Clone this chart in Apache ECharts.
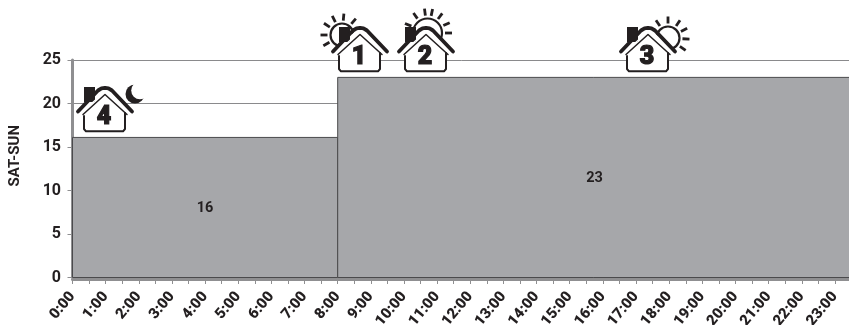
<!DOCTYPE html>
<html><head><meta charset="utf-8">
<script src="https://cdn.jsdelivr.net/npm/echarts@6/dist/echarts.min.js"></script>
<style>html,body{margin:0;padding:0;background:#fff}#c{width:849px;height:325px}</style></head>
<body><div id="c"></div>
<script>
const startHours = [0, 8];
const endHours = [8, 23.5];
const values = [16.1, 23];
const seriesName = 'SAT-SUN';
const yTicks = {min: 0, max: 25, interval: 5};

const ink = '#231f20';
function house(px, py, n, extras) {
  const c = [];
  const P = (pts, style, z) => ({type:'polyline', z: z||10, shape:{points:pts.map(p=>[p[0]+px,p[1]+py]), smooth:0}, style:Object.assign({fill:null, stroke:ink, lineCap:'round', lineJoin:'round'}, style)});
  (extras||[]).forEach(e => c.push(e));
  c.push({type:'polygon', z:10, shape:{points:[[-28,25],[0,0],[28,25],[20,25],[20,44],[-21,44],[-21,25]].map(p=>[p[0]+px,p[1]+py])}, style:{fill:'#fff'}});
  c.push({type:'rect', z:11, shape:{x:px-21, y:py, width:11, height:15}, style:{fill:ink}});
  c.push(P([[-27,24.5],[-7,3.5],[-3.5,1.4],[0,0.8],[3.5,1.4],[7,3.5],[27,24.5]], {lineWidth:3.8}, 12));
  c.push(P([[-25,27],[0,4.5],[25,27]], {lineWidth:1.6,stroke:'#fff'}, 12));
  c.push(P([[-22,27.5],[0,7.5],[22,27.5]], {lineWidth:1.5}, 12));
  c.push(P([[-21,29],[-21,42],[-19,44.3],[18,44.3],[20,42],[20,26]], {lineWidth:2}, 12));
  c.push({type:'text', z:13, style:{x:px-1, y:py+30.5, text:n, fill:ink, font:'900 25px Roboto', align:'center', verticalAlign:'middle', stroke:ink, lineWidth:1.2}});
  return c;
}
function sun(cx, cy, r, angles) {
  const c = [{type:'circle', z:9, shape:{cx, cy, r}, style:{fill:'#fff', stroke:ink, lineWidth:2.2}}];
  angles.forEach(d => {
    const a = d * Math.PI / 180;
    c.push({type:'line', z:9, shape:{x1:cx+Math.cos(a)*(r+3), y1:cy+Math.sin(a)*(r+3), x2:cx+Math.cos(a)*(r+10), y2:cy+Math.sin(a)*(r+10)}, style:{stroke:ink, lineWidth:2.8}});
  });
  return c;
}
function moon(cx, cy) {
  return [
    {type:'circle', z:9, shape:{cx, cy, r:9.5}, style:{fill:ink}},
    {type:'circle', z:9, shape:{cx:cx+5, cy:cy-3.5, r:8.8}, style:{fill:'#fff'}}
  ];
}

const graphics = [].concat(
  house(360, 27, '1', sun(342, 35, 11.5, [150,180,213,243,275,310])),
  house(426, 27, '2', sun(427.5, 33, 14.5, [203,235,263,282,307,335,360])),
  house(648, 27, '3', sun(668, 38, 11.5, [236,270,304,333,363,395])),
  house(105, 87, '4', moon(135, 94))
);

const chart = echarts.init(document.getElementById('c'), null, {renderer:'canvas'});
chart.setOption({
  animation:false,
  backgroundColor:'#fff',
  textStyle:{fontFamily:'Roboto'},
  grid:{left:72.5, top:60, width:779, height:217.5, containLabel:false, outerBoundsMode:'none'},
  xAxis:{type:'value', min:0, max:23.5, interval:1, offset:1.5,
    axisLine:{show:true, onZero:false, lineStyle:{color:'#8f8f91', width:3}},
    axisTick:{show:true, length:5, lineStyle:{color:'#8f8f91', width:1}},
    minorTick:{show:true, splitNumber:2, length:5, lineStyle:{color:'#8f8f91', width:1}},
    splitLine:{show:false},
    axisLabel:{rotate:50, margin:15, color:ink, fontWeight:'900', fontSize:15, fontFamily:'Roboto', showMaxLabel:false,
      formatter:v => Number.isInteger(v) ? v + ':00' : ''}
  },
  yAxis:{type:'value', min:yTicks.min, max:yTicks.max, interval:yTicks.interval, offset:1.5,
    name:seriesName, nameLocation:'middle', nameGap:48, nameRotate:90,
    nameTextStyle:{color:ink, fontWeight:'bold', fontSize:15, fontFamily:'Roboto', padding:[0,0,0,26]},
    axisLine:{show:true, lineStyle:{color:'#8f8f91', width:3}},
    axisTick:{show:true, length:5, lineStyle:{color:'#8f8f91', width:1}},
    splitLine:{show:true, lineStyle:{color:'#8a8a8c', width:1}},
    axisLabel:{margin:10, color:ink, fontWeight:'bold', fontSize:16, fontFamily:'Roboto'}
  },
  series:[{
    type:'custom', coordinateSystem:'cartesian2d', clip:false,
    data:values.map((v,i)=>[startHours[i], endHours[i], v]),
    encode:{x:[0,1], y:2},
    renderItem:(p, api) => {
      const a = api.coord([api.value(0), api.value(2)]);
      const b = api.coord([api.value(1), 0]);
      return {type:'rect', shape:{x:a[0], y:a[1], width:b[0]-a[0], height:b[1]-a[1]},
        style:{fill:'#a6a7aa', stroke:'#4a4a4c', lineWidth:1},
        textContent:{style:{text:String(Math.round(api.value(2))), fill:ink, font:'bold 14.5px Roboto'}},
        textConfig:{position:'inside', offset:[0,1]}};
    }
  }],
  graphic:{elements:graphics}
});
</script></body></html>
